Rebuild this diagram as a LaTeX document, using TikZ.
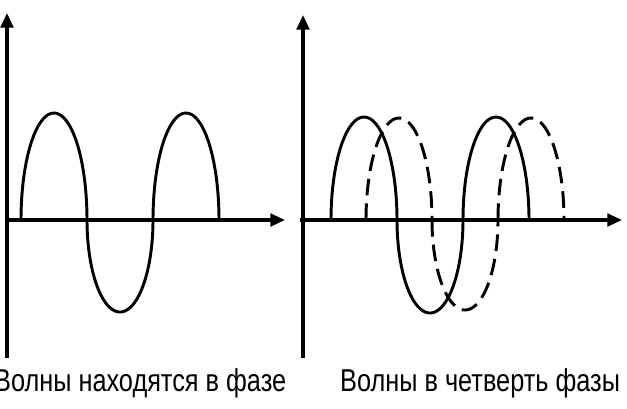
\documentclass[tikz,border=0pt]{standalone}
\usepackage{fontspec}
\setmainfont{Liberation Sans}
\usetikzlibrary{arrows.meta}
\tikzset{
  axis/.style={line width=2.7pt,-{Triangle[length=0.44cm,width=0.38cm]}},
  wave/.style={line width=2.5pt,line join=round},
  dashwave/.style={wave,dash pattern=on 0.5cm off 0.24cm},
  caption/.style={anchor=base west,inner sep=0pt,font=\fontsize{27}{30}\selectfont}
}
\begin{document}
\begin{tikzpicture}[x=0.03cm,y=-0.03cm]
\useasboundingbox (0,0) rectangle (627,408);
% left panel
\coordinate (L0) at (7,358);
\coordinate (Ltop) at (7,13);
\coordinate (Lx0) at (5,220);
\coordinate (Lxend) at (285,220);
\draw[axis] (L0) -- (Ltop);
\draw[axis] (Lx0) -- (Lxend);
\draw[wave] plot[domain=0:180,samples=60,variable=\t] ({21+33*(1-cos(\t))},{220-107*sin(\t))})
  plot[domain=0:180,samples=60,variable=\t] ({87+33*(1-cos(\t))},{220+92*sin(\t))})
  plot[domain=0:180,samples=60,variable=\t] ({153+33*(1-cos(\t))},{220-107*sin(\t))});
% right panel
\coordinate (R0) at (303,358);
\coordinate (Rtop) at (303,15);
\coordinate (Rx0) at (300,220);
\coordinate (Rxend) at (622,220);
\draw[axis] (R0) -- (Rtop);
\draw[axis] (Rx0) -- (Rxend);
\draw[wave] plot[domain=0:180,samples=60,variable=\t] ({331+33*(1-cos(\t))},{220-103*sin(\t))})
  plot[domain=0:180,samples=60,variable=\t] ({397+33*(1-cos(\t))},{220+93*sin(\t))})
  plot[domain=0:180,samples=60,variable=\t] ({463+33*(1-cos(\t))},{220-103*sin(\t))});
\draw[dashwave] plot[domain=0:180,samples=60,variable=\t] ({366+33*(1-cos(\t))},{220-102*sin(\t))})
  plot[domain=0:180,samples=60,variable=\t] ({432+33*(1-cos(\t))},{220+90*sin(\t))})
  plot[domain=0:180,samples=60,variable=\t] ({498+33*(1-cos(\t))},{220-102*sin(\t))});
% captions
\node[caption] (capL) at (-6,391) {\scalebox{0.8}[1]{Волны находятся в фазе}};
\node[caption] (capR) at (340,391) {\scalebox{0.8}[1]{Волны в четверть фазы}};
\end{tikzpicture}
\end{document}
